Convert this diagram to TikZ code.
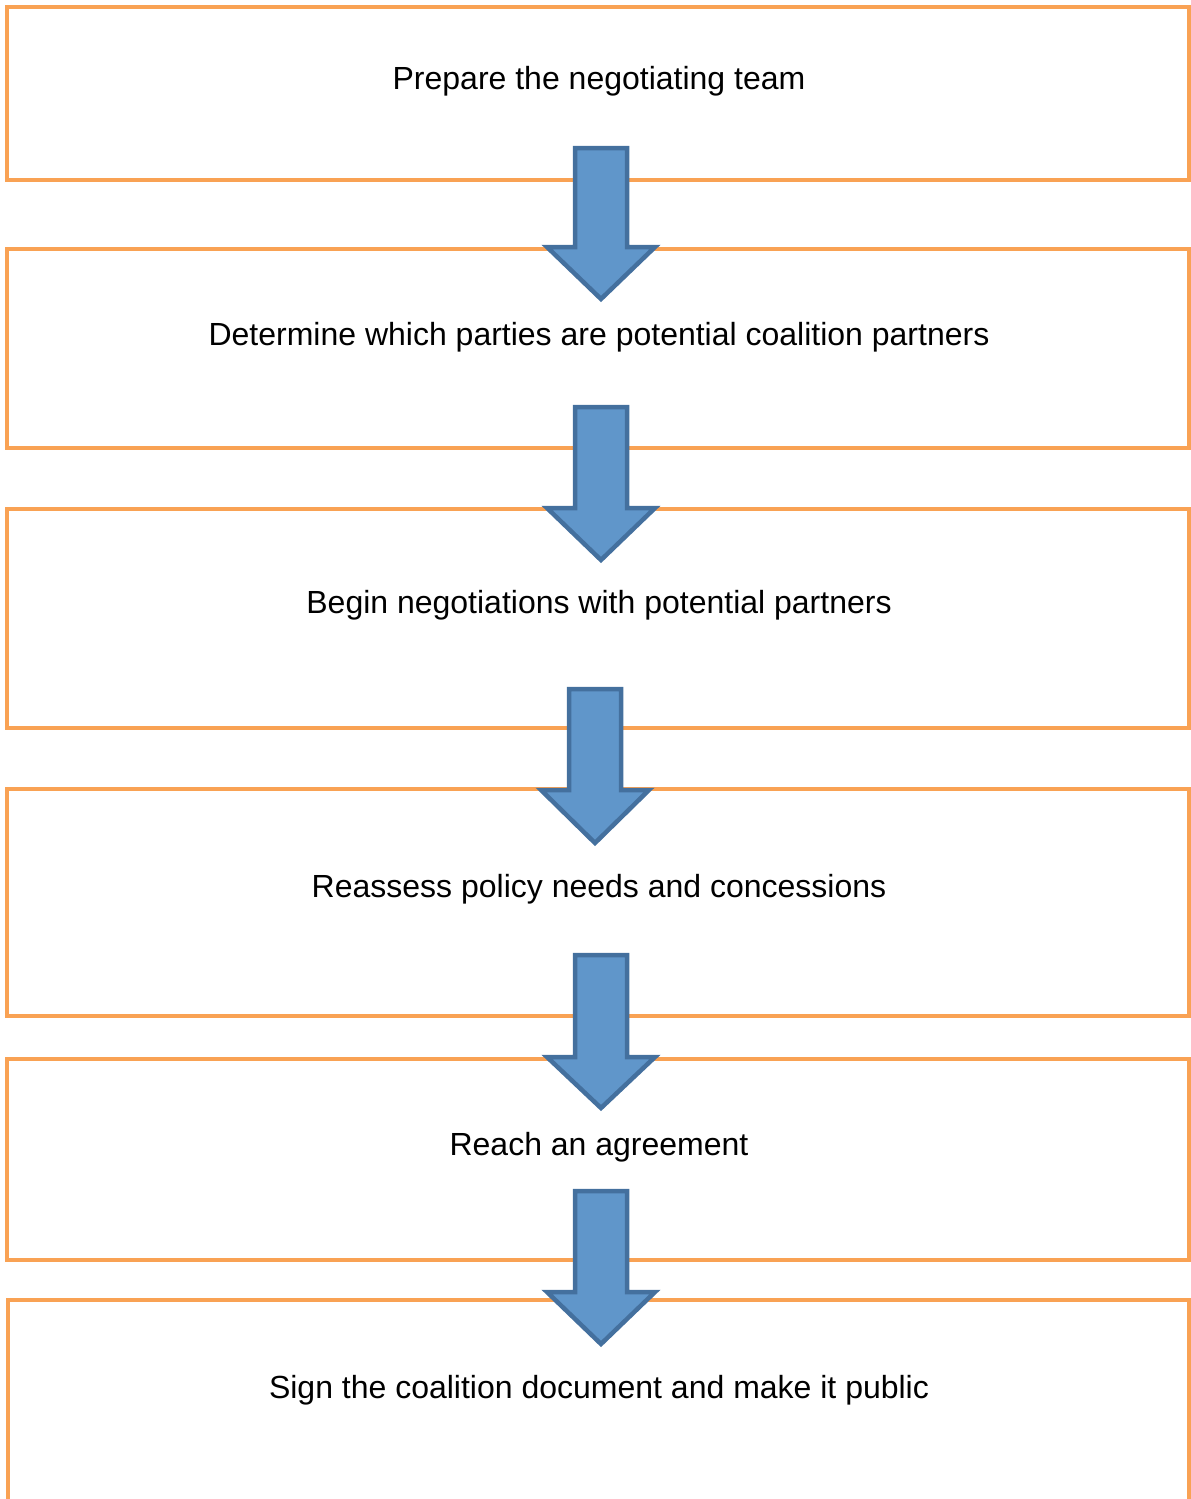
\documentclass[tikz,border=0pt]{standalone}
\usepackage{fontspec}
\setmainfont{Liberation Sans}
\definecolor{boxorange}{HTML}{F9A254}
\definecolor{arrowfill}{HTML}{6096CA}
\definecolor{arrowline}{HTML}{44709E}
\begin{document}
\begin{tikzpicture}[x=1pt,y=-1pt,
  stepbox/.style={draw=boxorange,line width=4pt},
  steptext/.style={font=\fontsize{32}{38}\selectfont,text=black,inner sep=0pt,anchor=center},
  blockarrow/.style={fill=arrowfill,draw=arrowline,line width=4.5pt,line join=miter}]
\useasboundingbox (0,0) rectangle (1191,1499);
% boxes
\draw[stepbox] (7,7) rectangle (1189,180);
\draw[stepbox] (7,249) rectangle (1189,448);
\draw[stepbox] (7,509) rectangle (1189,728);
\draw[stepbox] (7,789) rectangle (1189,1016);
\draw[stepbox] (7,1059) rectangle (1189,1260);
\draw[stepbox] (8,1530) -- (8,1300) -- (1189,1300) -- (1189,1530);
% arrows
\newcommand{\blockarr}[4]{% cx, top, base, tip
  \draw[blockarrow] (#1-26,#2) -- (#1+26,#2) -- (#1+26,#3) -- (#1+54,#3) -- (#1,#4) -- (#1-54,#3) -- (#1-26,#3) -- cycle;}
\blockarr{601}{148}{247}{299}
\blockarr{601}{407}{508}{560}
\blockarr{595}{689}{790}{843}
\blockarr{601}{955}{1057}{1108}
\blockarr{601}{1191}{1292}{1344}
% texts
\node[steptext] (t1) at (599,81) {Prepare the negotiating team};
\node[steptext] (t2) at (599,337) {Determine which parties are potential coalition partners};
\node[steptext] (t3) at (599,605) {Begin negotiations with potential partners};
\node[steptext] (t4) at (599,889) {Reassess policy needs and concessions};
\node[steptext] (t5) at (599,1147) {Reach an agreement};
\node[steptext] (t6) at (599,1390) {Sign the coalition document and make it public};
\end{tikzpicture}
\end{document}
